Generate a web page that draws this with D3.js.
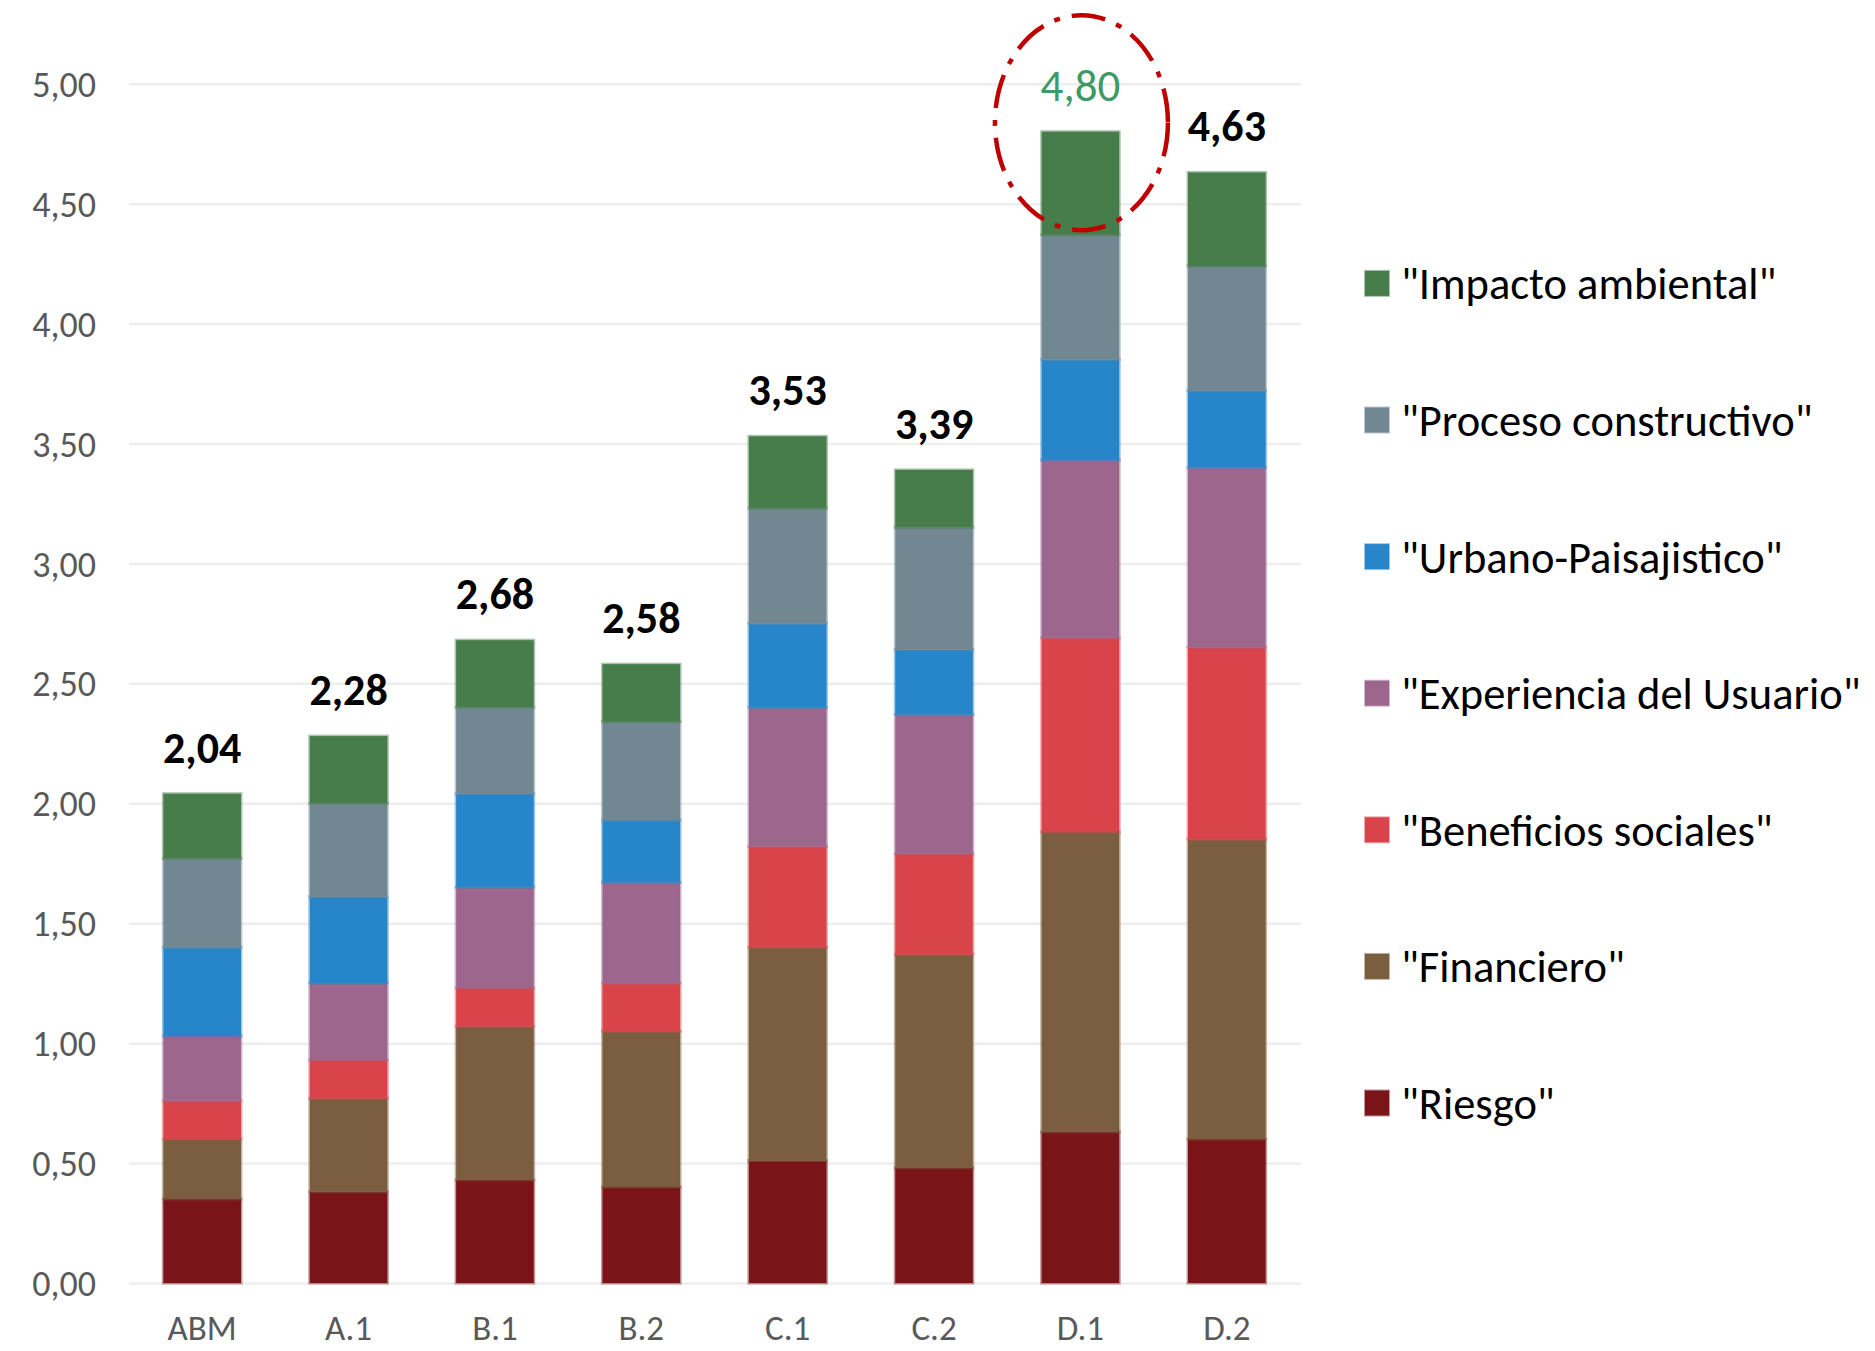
<!DOCTYPE html>
<html>
<head>
<meta charset="utf-8">
<script src="https://cdn.jsdelivr.net/npm/d3@7"></script>
<style>
  html, body { margin: 0; padding: 0; background: #ffffff; }
  svg { display: block; }
  text { font-family: "Carlito", "Lato", "Open Sans", sans-serif; }
</style>
</head>
<body>
<svg id="chart" width="1875" height="1351"></svg>
<script>
// ---- data ----
const categories = ["ABM", "A.1", "B.1", "B.2", "C.1", "C.2", "D.1", "D.2"];
const seriesNames = ["\"Riesgo\"", "\"Financiero\"", "\"Beneficios sociales\"", "\"Experiencia del Usuario\"",
                     "\"Urbano-Paisajistico\"", "\"Proceso constructivo\"", "\"Impacto ambiental\""];
const riesgo      = [0.35, 0.38, 0.43, 0.40, 0.51, 0.48, 0.63, 0.60];
const financiero  = [0.25, 0.39, 0.64, 0.65, 0.89, 0.89, 1.25, 1.25];
const beneficios  = [0.16, 0.16, 0.16, 0.20, 0.42, 0.42, 0.81, 0.80];
const experiencia = [0.27, 0.32, 0.42, 0.42, 0.58, 0.58, 0.74, 0.75];
const urbano      = [0.37, 0.36, 0.39, 0.26, 0.35, 0.27, 0.42, 0.32];
const proceso     = [0.37, 0.39, 0.36, 0.41, 0.48, 0.51, 0.52, 0.52];
const impacto     = [0.27, 0.28, 0.28, 0.24, 0.30, 0.24, 0.43, 0.39];
const yTicks = [0, 0.5, 1, 1.5, 2, 2.5, 3, 3.5, 4, 4.5, 5];
const highlighted = "D.1";

const colors = ["#7b1419", "#7b5e3f", "#d9444b", "#9c668d", "#2785c9", "#718792", "#477c4b"];

// ---- build table ----
const seriesValues = [riesgo, financiero, beneficios, experiencia, urbano, proceso, impacto];
const table = categories.map((c, i) => {
  const row = { cat: c };
  seriesNames.forEach((s, k) => row[s] = seriesValues[k][i]);
  return row;
});
const stacked = d3.stack().keys(seriesNames)(table);
const totals = table.map(r => ({ cat: r.cat, total: d3.sum(seriesNames, s => r[s]) }));

const locale = d3.formatLocale({ decimal: ",", thousands: ".", grouping: [3], currency: ["", "€"] });
const fmt = locale.format(".2f");

// ---- scales ----
const svg = d3.select("#chart");
const x = d3.scaleBand().domain(categories).range([129, 1300]).paddingInner(0.47).paddingOuter(0.235);
const y = d3.scaleLinear().domain([0, 5]).range([1283, 83.7]);
const color = d3.scaleOrdinal().domain(seriesNames).range(colors);

// ---- gridlines + y axis ----
const yAxis = d3.axisLeft(y).tickValues(yTicks).tickFormat(fmt).tickSize(0).tickPadding(0);
const gy = svg.append("g").attr("transform", "translate(96,0)").call(yAxis);
gy.select(".domain").remove();
gy.selectAll("text").attr("fill", "#595959").style("font-size", "36px")
  .attr("dy", "0.35em").attr("text-anchor", "end");

const grid = d3.axisLeft(y).tickValues(yTicks).tickSize(-(1301 - 129)).tickFormat("");
const gg = svg.append("g").attr("transform", "translate(129,0)").call(grid);
gg.select(".domain").remove();
gg.selectAll("line").attr("stroke", "#eeeeee").attr("stroke-width", 2.5);

// ---- bars ----
svg.append("g").selectAll("g").data(stacked).join("g")
  .attr("fill", d => color(d.key))
  .attr("stroke", d => color(d.key))
  .selectAll("rect").data(d => d).join("rect")
  .attr("x", d => x(d.data.cat))
  .attr("width", x.bandwidth())
  .attr("y", d => y(d[1]))
  .attr("height", d => y(d[0]) - y(d[1]))
  .attr("stroke-opacity", 0.45)
  .attr("stroke-width", 3);

// ---- x axis ----
const xAxis = d3.axisBottom(x).tickSize(0).tickPadding(0);
const gx = svg.append("g").attr("transform", "translate(0,1340)").call(xAxis);
gx.select(".domain").remove();
gx.selectAll("text").attr("fill", "#595959").style("font-size", "35px").attr("dy", "0");

// ---- total labels ----
svg.append("g").selectAll("text").data(totals).join("text")
  .attr("x", d => x(d.cat) + x.bandwidth() / 2)
  .attr("y", d => y(d.total) - 31)
  .attr("text-anchor", "middle")
  .style("font-size", d => d.cat === highlighted ? "45px" : "44px")
  .style("font-weight", d => d.cat === highlighted ? "400" : "700")
  .attr("fill", d => d.cat === highlighted ? "#3d9a66" : "#000000")
  .text(d => fmt(d.total));

// ---- highlight ellipse ----
const hTotal = totals.find(t => t.cat === highlighted).total;
svg.append("ellipse")
  .attr("cx", x(highlighted) + x.bandwidth() / 2 + 1)
  .attr("cy", y(hTotal) - 9)
  .attr("rx", 86.5)
  .attr("ry", 107.5)
  .attr("fill", "none")
  .attr("stroke", "#c00000")
  .attr("stroke-width", 4.5)
  .attr("stroke-dasharray", "34 12 6 12");

// ---- legend ----
const legendOrder = seriesNames.slice().reverse();
const legend = svg.append("g").attr("transform", "translate(1365,283.4)");
const li = legend.selectAll("g").data(legendOrder).join("g")
  .attr("transform", (d, i) => `translate(0,${i * 136.6})`);
li.append("rect").attr("x", 0).attr("y", -12.5).attr("width", 24).attr("height", 25)
  .attr("fill", d => color(d)).attr("stroke", d => color(d)).attr("stroke-opacity", 0.45).attr("stroke-width", 2);
li.append("text").attr("x", 36).attr("y", 0).attr("dy", "0.36em")
  .attr("fill", "#000000").style("font-size", "44.5px").text(d => d);
</script>
</body>
</html>
